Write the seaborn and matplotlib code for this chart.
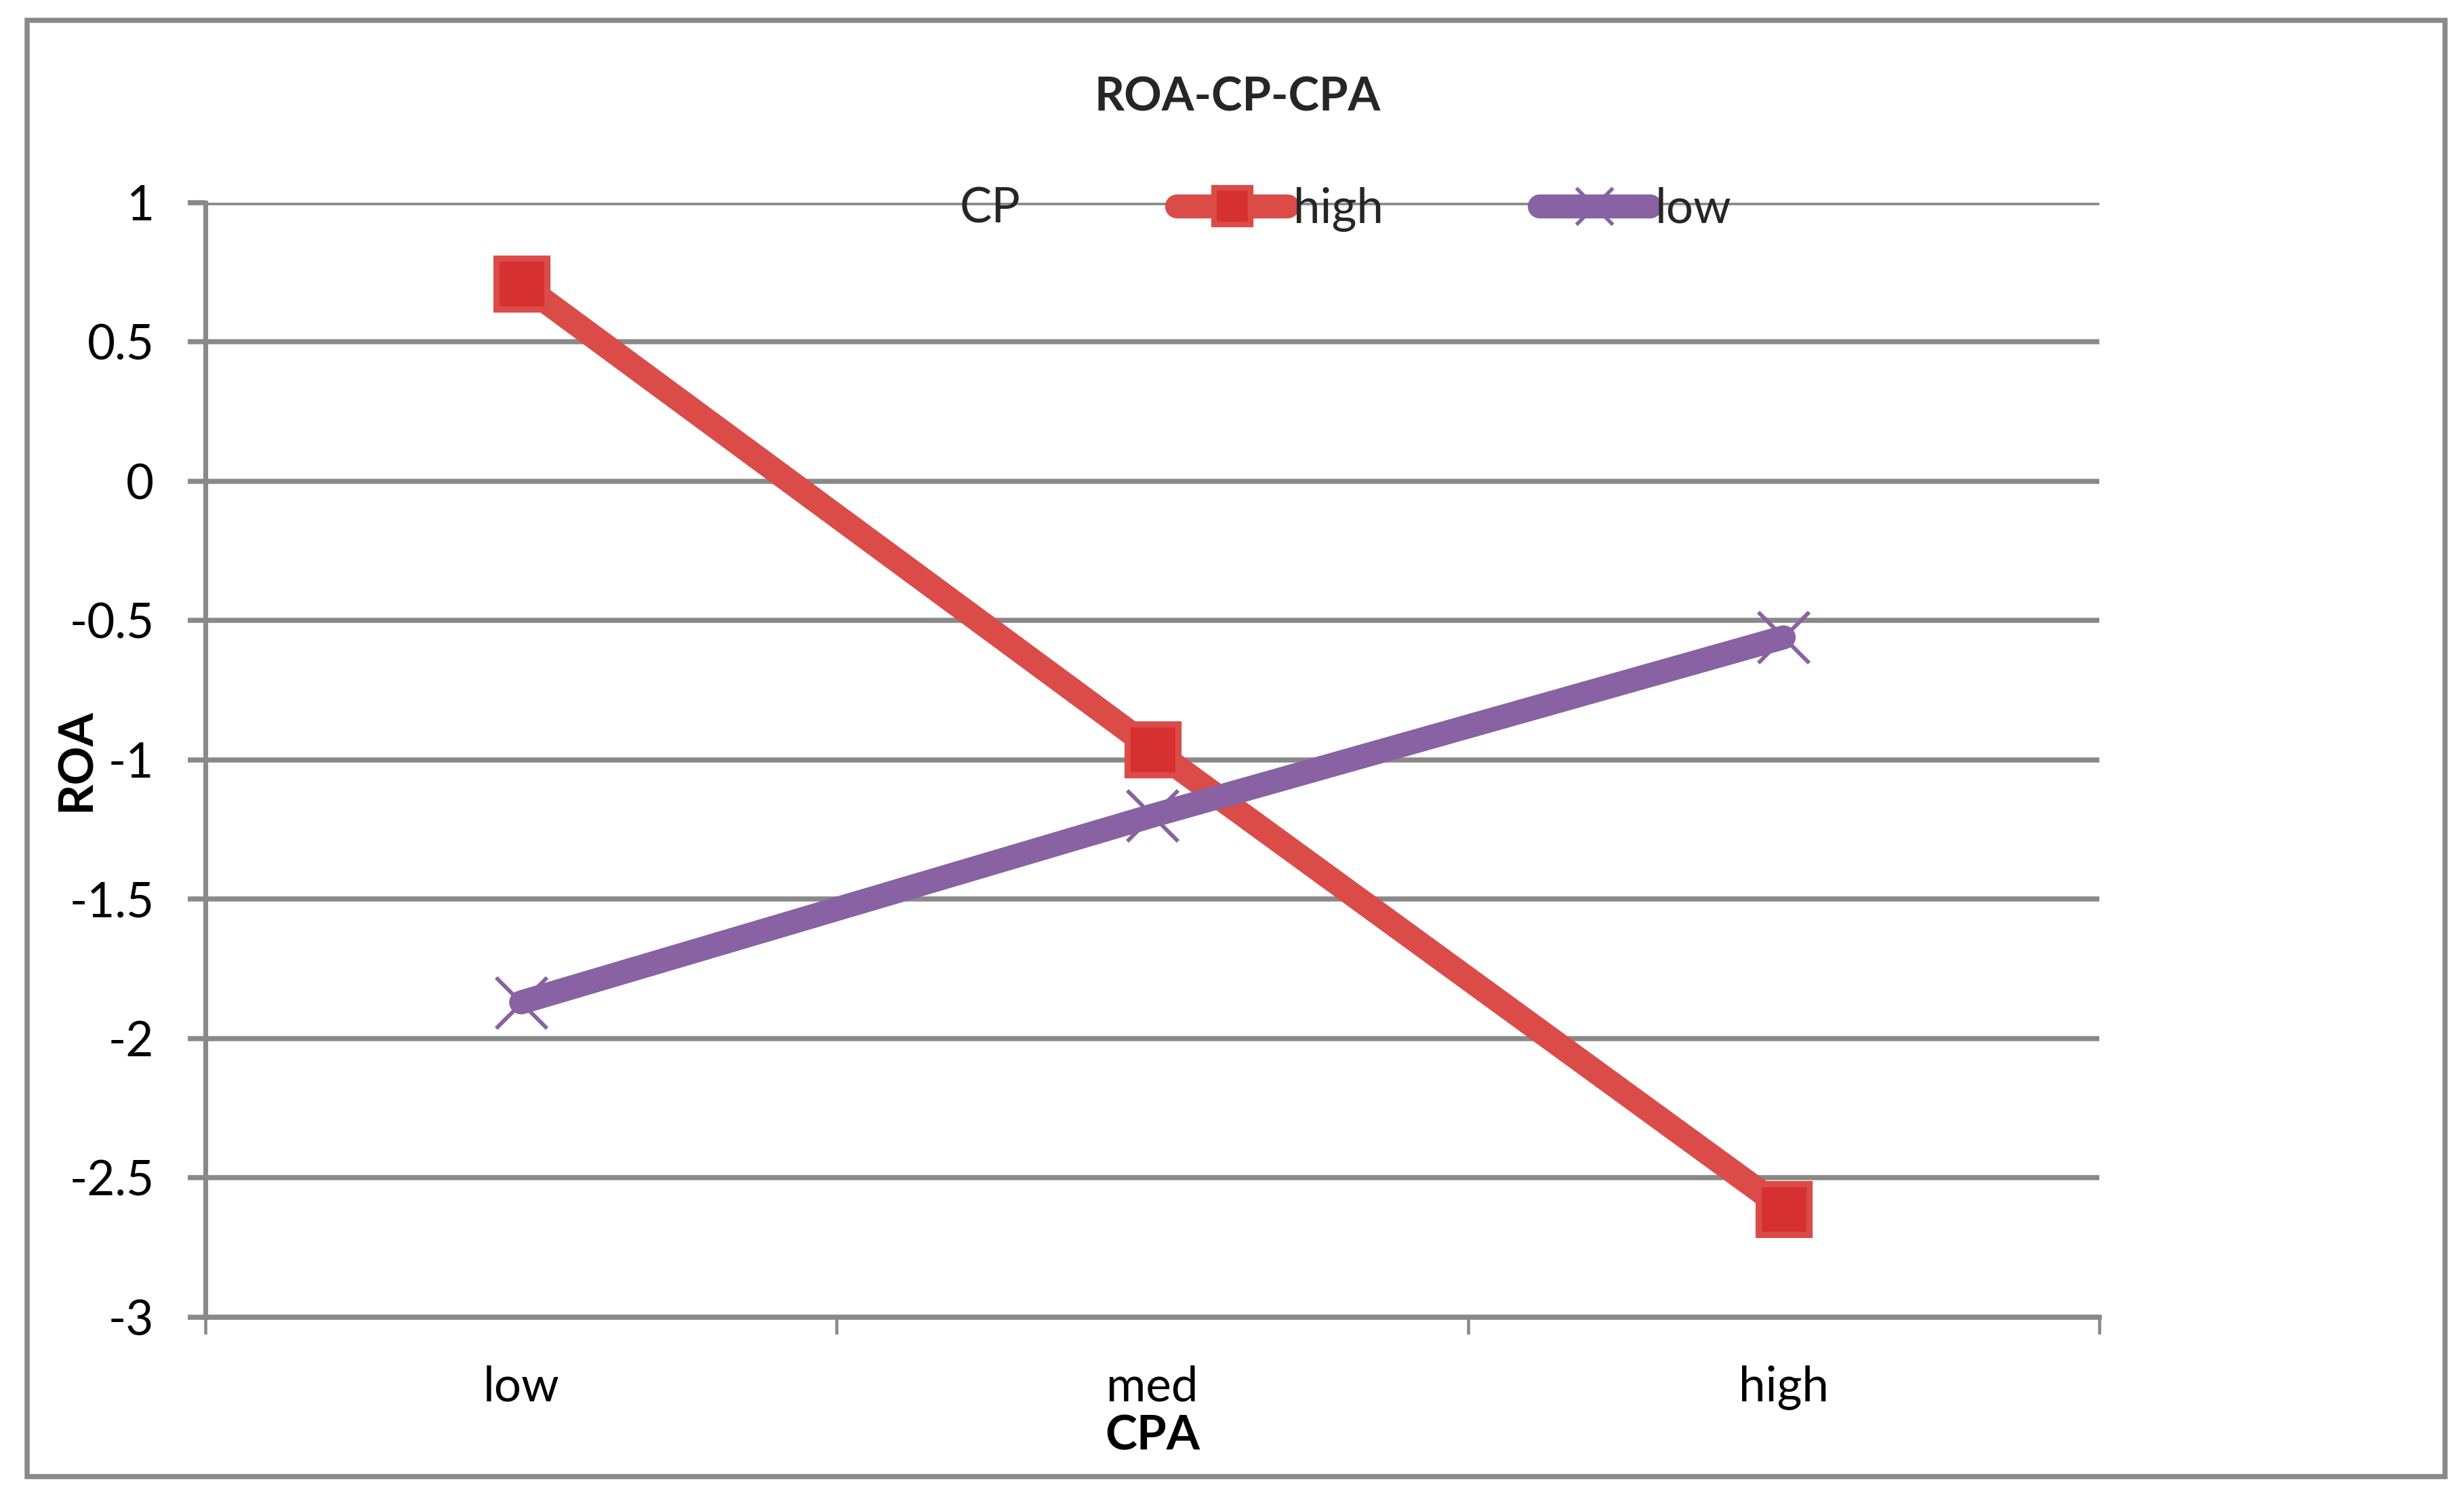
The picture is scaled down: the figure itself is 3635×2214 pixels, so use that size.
import matplotlib
matplotlib.use("Agg")
import pandas as pd
import matplotlib.pyplot as plt
import seaborn as sns
from matplotlib.lines import Line2D
from matplotlib.patches import Rectangle
from matplotlib.ticker import FuncFormatter

# data
cpa_levels = ["low", "med", "high"]
roa_cp_high = [0.71, -0.96, -2.61]
roa_cp_low = [-1.87, -1.20, -0.56]
cp_levels = ["high", "low"]
y_ticks = [1, 0.5, 0, -0.5, -1, -1.5, -2, -2.5, -3]

df = pd.DataFrame({
    "CPA": cpa_levels * 2,
    "ROA": roa_cp_high + roa_cp_low,
    "CP": [cp_levels[0]] * 3 + [cp_levels[1]] * 3,
})

sns.set_theme(style="white")
plt.rcParams["font.family"] = ["Lato", "DejaVu Sans"]
plt.rcParams["axes.unicode_minus"] = False

GRID = "#898989"
RED = "#db4b48"
RED_FILL = "#d63030"
PURPLE = "#8862a3"
FS = 17

fig = plt.figure(figsize=(12.1167, 7.38), dpi=300)
ax = fig.add_axes([0.0834, 0.1224, 0.7686, 0.7426])

# seaborn won't mix filled and line-art markers, swap the "x" in afterwards
sns.lineplot(data=df, x="CPA", y="ROA", hue="CP", style="CP",
             palette={"high": RED, "low": PURPLE},
             markers={"high": "s", "low": "D"}, dashes=False,
             linewidth=8.5, sort=False, legend=False, ax=ax)

red_line, purple_line = ax.lines[0], ax.lines[1]
for ln in (red_line, purple_line):
    ln.set_solid_capstyle("round")
    ln.set_solid_joinstyle("round")
red_line.set_markersize(18)
red_line.set_markerfacecolor(RED_FILL)
red_line.set_markeredgecolor(RED)
red_line.set_markeredgewidth(2.2)
purple_line.set_marker("x")
purple_line.set_markersize(18)
purple_line.set_markeredgecolor(PURPLE)
purple_line.set_markeredgewidth(1.4)

# axes styling
ax.set_xlim(-0.5, 2.5)
ax.set_ylim(-3, 1)
ax.set_yticks(y_ticks)
ax.yaxis.set_major_formatter(FuncFormatter(lambda v, _: f"{v:g}"))
ax.set_xticks([0, 1, 2])
ax.set_xticks([-0.5, 0.5, 1.5, 2.5], minor=True)
ax.yaxis.grid(True, color=GRID, lw=1.8)
ax.xaxis.grid(False)
ax.set_axisbelow(True)

for side in ("top", "right"):
    ax.spines[side].set_visible(False)
ax.spines["left"].set_color(GRID)
ax.spines["left"].set_linewidth(1.7)
ax.spines["bottom"].set_color(GRID)
ax.spines["bottom"].set_linewidth(1.8)

ax.tick_params(axis="y", left=True, length=6.2, width=1.8, color=GRID,
               pad=12, labelsize=FS, labelcolor="black")
ax.tick_params(axis="x", which="major", bottom=True, length=0, pad=17,
               labelsize=FS, labelcolor="black")
ax.tick_params(axis="x", which="minor", bottom=True, length=6, width=1.1,
               color=GRID)

ax.set_xlabel("CPA", fontsize=FS, fontweight="bold", color="black")
ax.xaxis.set_label_coords(0.5, -0.1065)
ax.xaxis.label.set_va("center")
ax.set_ylabel("ROA", fontsize=FS, fontweight="bold", color="black")
ax.yaxis.set_label_coords(-0.0684, 0.5)
ax.yaxis.label.set_va("center")

# legend with the "CP" label sitting in line with the entries
blank = Line2D([], [], color="none")
h_high = Line2D([], [], color=RED, lw=8.5, solid_capstyle="round", marker="s",
                ms=13, mfc=RED_FILL, mec=RED, mew=2)
h_low = Line2D([], [], color=PURPLE, lw=8.5, solid_capstyle="round", marker="x",
               ms=13, mec=PURPLE, mew=1.3)
ax.legend(handles=[blank, h_high, h_low], labels=["CP"] + cp_levels, ncol=3,
          loc="center left", bbox_to_anchor=(0.337, 0.994), frameon=False,
          handlelength=2.3, handletextpad=0.12, columnspacing=3.25,
          borderpad=0, borderaxespad=0, fontsize=FS)

fig.text(0.5023, 0.935, "ROA-CP-CPA", ha="center", va="center",
         fontsize=FS - 0.5, fontweight="bold")

fig.add_artist(Rectangle((0.011, 0.0163), 0.9813, 0.9702,
                         transform=fig.transFigure, fill=False,
                         ec=GRID, lw=1.8))

fig.savefig("out.png", dpi=300)
plt.close(fig)
